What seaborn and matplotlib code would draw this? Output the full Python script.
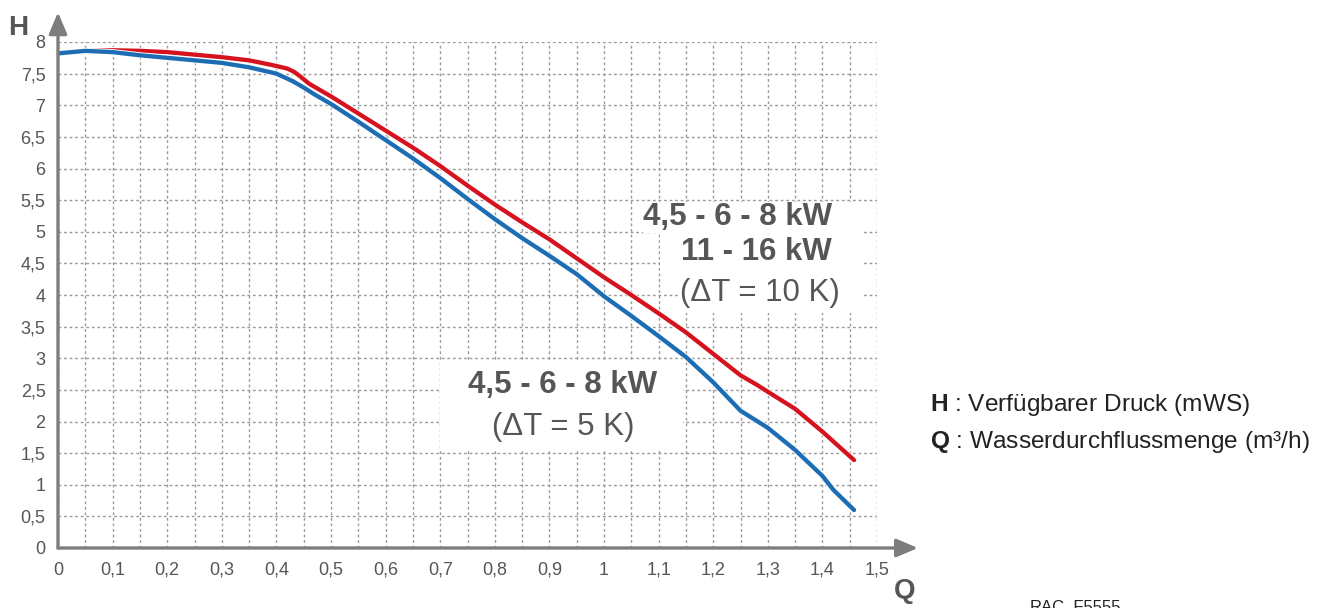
import numpy as np
import pandas as pd
import matplotlib
matplotlib.use("Agg")
import matplotlib.pyplot as plt
import seaborn as sns
from matplotlib import patheffects as pe
from matplotlib.patches import Rectangle

# Kennlinien (Q in m3/h, H in mWS)
q_rot = [0, 0.05, 0.1, 0.15, 0.2, 0.25, 0.3, 0.35, 0.39, 0.42, 0.432, 0.443, 0.46, 0.5,
         0.55, 0.6, 0.65, 0.7, 0.75, 0.8, 0.85, 0.9, 0.95, 1.0, 1.05, 1.1, 1.15, 1.2,
         1.25, 1.28, 1.3, 1.35, 1.4, 1.458]
h_rot = [7.82, 7.86, 7.87, 7.86, 7.84, 7.80, 7.76, 7.71, 7.64, 7.58, 7.53, 7.46, 7.34, 7.14,
         6.87, 6.60, 6.33, 6.04, 5.73, 5.43, 5.15, 4.88, 4.58, 4.28, 4.00, 3.71, 3.41, 3.07,
         2.73, 2.58, 2.47, 2.20, 1.84, 1.39]

q_blau = [0, 0.05, 0.1, 0.15, 0.2, 0.25, 0.3, 0.35, 0.4, 0.43, 0.45, 0.47, 0.5, 0.55,
          0.6, 0.65, 0.7, 0.75, 0.8, 0.85, 0.9, 0.95, 1.0, 1.05, 1.1, 1.15, 1.2, 1.25,
          1.3, 1.35, 1.4, 1.42, 1.458]
h_blau = [7.82, 7.86, 7.84, 7.79, 7.75, 7.71, 7.67, 7.60, 7.50, 7.38, 7.28, 7.17, 7.02, 6.74,
          6.45, 6.16, 5.85, 5.52, 5.20, 4.90, 4.62, 4.33, 3.98, 3.67, 3.35, 3.02, 2.62, 2.17,
          1.90, 1.55, 1.14, 0.92, 0.60]

x_ticks = [0, 0.1, 0.2, 0.3, 0.4, 0.5, 0.6, 0.7, 0.8, 0.9, 1.0, 1.1, 1.2, 1.3, 1.4, 1.5]
y_ticks = [0, 0.5, 1, 1.5, 2, 2.5, 3, 3.5, 4, 4.5, 5, 5.5, 6, 6.5, 7, 7.5, 8]

label_rot = ["4,5 - 6 - 8 kW", "11 - 16 kW", "(\u0394T = 10 K)"]
label_blau = ["4,5 - 6 - 8 kW", "(\u0394T = 5 K)"]

ROT = "#d5131f"
BLAU = "#1d6db4"
GRAU = "#7d7d7d"
TEXT = "#565656"

sns.set_style("white")
plt.rcParams["font.family"] = ["Liberation Sans", "DejaVu Sans"]
plt.rcParams["mathtext.fontset"] = "custom"
plt.rcParams["mathtext.rm"] = "Liberation Sans"
plt.rcParams["mathtext.bf"] = "Liberation Sans:bold"

W, H = 1331, 608
fig = plt.figure(figsize=(W / 100, H / 100), dpi=100)
ax = fig.add_axes([58 / W, (H - 548) / H, (877 - 58) / W, (548 - 42) / H])
ax.set_xlim(0, 1.5)
ax.set_ylim(0, 8)

# Raster
for v in np.arange(0, 1.5001, 0.05):
    ax.axvline(v, color="#9a9a9a", lw=1, ls=(0, (2, 2)), zorder=1)
for v in y_ticks:
    ax.axhline(v, color="#9a9a9a", lw=1, ls=(0, (2, 2)), zorder=1)

for s in ax.spines.values():
    s.set_visible(False)

ax.set_xticks(x_ticks)
ax.set_yticks(y_ticks)
fmt = lambda v: f"{v:g}".replace(".", ",")
ax.set_xticklabels([fmt(v) for v in x_ticks], fontsize=13, color=TEXT)
ax.set_yticklabels([fmt(v) for v in y_ticks], fontsize=13, color=TEXT)
ax.tick_params(axis="both", length=0)
ax.tick_params(axis="x", pad=10)
ax.tick_params(axis="y", pad=9)

# Achsen mit Pfeilen
pfeil = dict(arrowstyle="-|>,head_length=1.3,head_width=0.55", lw=2.4, color=GRAU,
             shrinkA=0, shrinkB=0)
ax.annotate("", xy=(1.575, 0), xytext=(0, 0), arrowprops=pfeil, annotation_clip=False, zorder=5)
ax.annotate("", xy=(0, 8.47), xytext=(0, 0), arrowprops=pfeil, annotation_clip=False, zorder=5)

# weisse Flaechen hinter den Beschriftungen
for x0, x1, y0, y1 in [(1.071, 1.474, 4.98, 5.47), (1.102, 1.474, 4.36, 4.98),
                       (1.136, 1.474, 3.71, 4.36), (0.700, 1.145, 1.55, 2.94)]:
    ax.add_patch(Rectangle((x0, y0), x1 - x0, y1 - y0, facecolor="white",
                           edgecolor="none", zorder=2))

halo = [pe.Stroke(linewidth=4.4, foreground="white"), pe.Normal()]
df_rot = pd.DataFrame({"Q": q_rot, "H": h_rot})
df_blau = pd.DataFrame({"Q": q_blau, "H": h_blau})
sns.lineplot(data=df_rot, x="Q", y="H", ax=ax, color=ROT, lw=3.1, estimator=None,
             sort=False, zorder=4, path_effects=halo)
sns.lineplot(data=df_blau, x="Q", y="H", ax=ax, color=BLAU, lw=3.1, estimator=None,
             sort=False, zorder=4, path_effects=halo)
ax.set_xlabel("")
ax.set_ylabel("")

# Beschriftung rote Kurve
ax.text(1.418, 5.23, label_rot[0], ha="right", va="center", fontsize=22.5, fontweight="bold",
        color=TEXT, zorder=3)
ax.text(1.418, 4.68, label_rot[1], ha="right", va="center", fontsize=22.5, fontweight="bold",
        color=TEXT, zorder=3)
ax.text(1.432, 4.03, label_rot[2], ha="right", va="center", fontsize=22.5,
        color=TEXT, zorder=3)
# Beschriftung blaue Kurve
ax.text(0.925, 2.58, label_blau[0], ha="center", va="center", fontsize=22.5, fontweight="bold",
        color=TEXT, zorder=3)
ax.text(0.925, 1.91, label_blau[1], ha="center", va="center", fontsize=22.5,
        color=TEXT, zorder=3)

# Achsenbuchstaben
fig.text(8 / W, 1 - 28 / H, "H", fontsize=20, fontweight="bold", color=TEXT,
         ha="left", va="center")
fig.text(905 / W, 1 - 591 / H, "Q", fontsize=20, fontweight="bold", color=TEXT,
         ha="center", va="center")

# Legende rechts
fig.text(930 / W, 1 - 405 / H, r"$\mathbf{H}$ : Verfügbarer Druck (mWS)", fontsize=17.6,
         color="#222222", ha="left", va="center")
fig.text(930 / W, 1 - 442 / H, r"$\mathbf{Q}$ : Wasserdurchflussmenge (m³/h)", fontsize=17.6,
         color="#222222", ha="left", va="center")
fig.text(1030 / W, 1 - 600 / H, "RAC_F5555", fontsize=12, color="#222222",
         ha="left", va="top")

fig.savefig("out.png", dpi=100)
